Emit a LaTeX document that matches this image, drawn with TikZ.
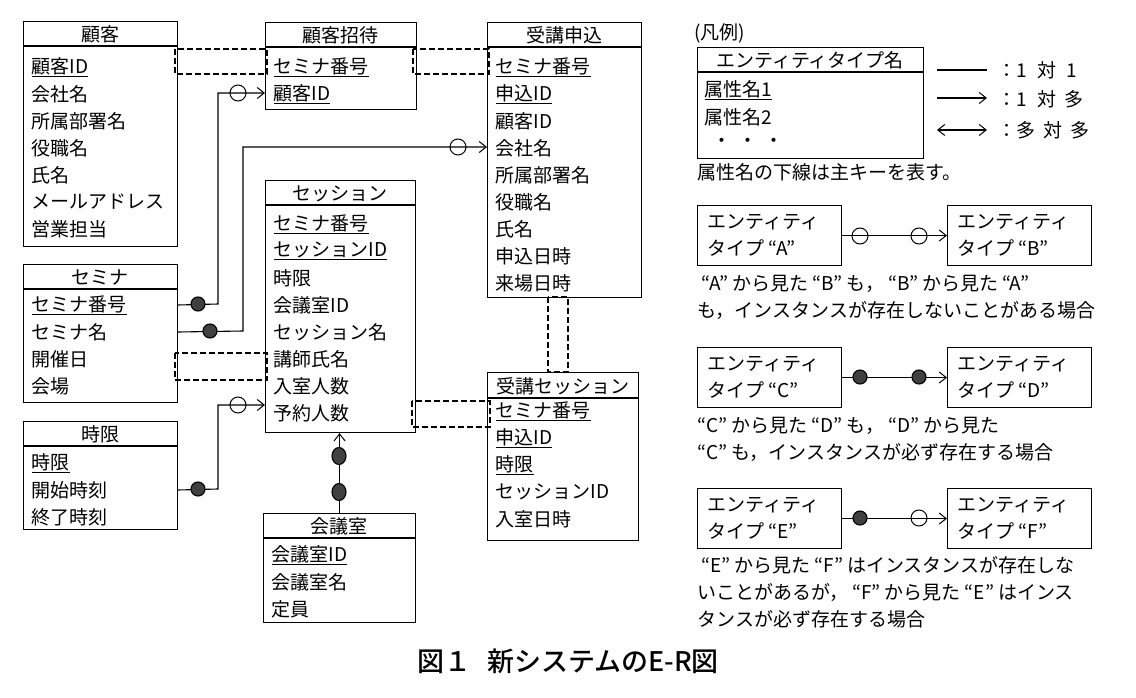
\documentclass[tikz,border=0pt]{standalone}
\usepackage{fontspec}
\setmainfont{Noto Sans CJK JP}
\newfontfamily\titlefont{Noto Sans CJK JP Medium}
\usetikzlibrary{arrows.meta,shapes.geometric}
\newcommand\entity[7]{% name x1 y1 x2 yh y2 title
  \node[box=#4pt-#2pt,minimum height=#6pt-#3pt] (#1) at (#2,#3) {};
  \draw (#2,#5) -- (#4,#5);
  \node[ttl] (#1t) at ({(#2+#4)/2},{(#3+#5)/2+1}) {#7};}
\newcommand\qq[1]{\hspace{4pt}“#1”\hspace{4pt}}
\begin{document}
\begin{tikzpicture}[x=1pt,y=-1pt,line width=1.1pt,
  box/.style={draw,anchor=north west,inner sep=0pt,minimum width=#1},
  txt/.style={anchor=west,inner sep=0pt,font=\fontsize{19}{19}\selectfont},
  ttl/.style={anchor=center,inner sep=0pt,font=\fontsize{19}{19}\selectfont},
  blank/.style={draw,line width=1.2pt,dash pattern=on 6pt off 3pt},
  fdot/.style={circle,fill=black!75,draw=black,inner sep=0pt,minimum size=14pt},
  odot/.style={circle,draw=black,inner sep=0pt,minimum size=16pt,line width=1pt},
  arr/.style={-{Straight Barb[length=7pt,width=11pt,line width=1pt]}},
  darr/.style={{Straight Barb[length=7pt,width=11pt,line width=1pt]}-{Straight Barb[length=7pt,width=11pt,line width=1pt]}}]
\useasboundingbox (0,0) rectangle (1136,698);
% dashed blanks (drawn first)
\draw[blank] (175,49) rectangle (267,74);
\draw[blank] (413,49) rectangle (489,74);
\draw[blank] (175,353) rectangle (267,380);
\draw[blank] (412,401) rectangle (490,427);
\draw[blank] (548,297) rectangle (568,372);
% entities
\entity{kok}{23}{21}{177}{46}{246}{顧客}
\node[txt] (k1) at (31,67) {\underline{顧客ID}};
\node[txt] (k2) at (31,94) {会社名};
\node[txt] (k3) at (31,121) {所属部署名};
\node[txt] (k4) at (31,148) {役職名};
\node[txt] (k5) at (31,175) {氏名};
\node[txt] (k6) at (31,202) {メールアドレス};
\node[txt] (k7) at (31,229) {営業担当};
\entity{ksh}{265}{22}{416}{47}{109}{顧客招待}
\node[txt] (s1) at (273,67) {\underline{セミナ番号}};
\node[txt] (s2) at (273,94) {\underline{顧客ID}};
\entity{jm}{487}{22}{641}{47}{297}{受講申込}
\node[txt] (j1) at (495,67) {\underline{セミナ番号}};
\node[txt] (j2) at (495,94) {\underline{申込ID}};
\node[txt] (j3) at (495,121) {顧客ID};
\node[txt] (j4) at (495,148) {会社名};
\node[txt] (j5) at (495,175) {所属部署名};
\node[txt] (j6) at (495,202) {役職名};
\node[txt] (j7) at (495,229) {氏名};
\node[txt] (j8) at (495,256) {申込日時};
\node[txt] (j9) at (495,283) {来場日時};
\entity{ses}{265}{180}{415}{205}{432}{セッション}
\node[txt] (e1) at (273,224) {\underline{セミナ番号}};
\node[txt] (e2) at (273,251) {\underline{セッションID}};
\node[txt] (e3) at (273,278) {時限};
\node[txt] (e4) at (273,305) {会議室ID};
\node[txt] (e5) at (273,332) {セッション名};
\node[txt] (e6) at (273,359) {講師氏名};
\node[txt] (e7) at (273,386) {入室人数};
\node[txt] (e8) at (273,413) {予約人数};
\entity{sem}{23}{264}{177}{289}{402}{セミナ}
\node[txt] (m1) at (31,305) {\underline{セミナ番号}};
\node[txt] (m2) at (31,332) {セミナ名};
\node[txt] (m3) at (31,359) {開催日};
\node[txt] (m4) at (31,386) {会場};
\entity{jg}{23}{421}{177}{446}{529}{時限}
\node[txt] (g1) at (31,463) {\underline{時限}};
\node[txt] (g2) at (31,490) {開始時刻};
\node[txt] (g3) at (31,517) {終了時刻};
\entity{kai}{263}{513}{415}{538}{622}{会議室}
\node[txt] (r1) at (271,555) {\underline{会議室ID}};
\node[txt] (r2) at (271,582) {会議室名};
\node[txt] (r3) at (271,609) {定員};
\entity{js}{487}{372}{638}{398}{540}{受講セッション}
\node[txt] (u1) at (495,411) {\underline{セミナ番号}};
\node[txt] (u2) at (495,438) {\underline{申込ID}};
\node[txt] (u3) at (495,465) {\underline{時限}};
\node[txt] (u4) at (495,492) {セッションID};
\node[txt] (u5) at (495,519) {入室日時};
% connectors
\coordinate (b1) at (218,304); \coordinate (b2) at (243,331); \coordinate (b3) at (218,489);
\coordinate (t1) at (265,93); \coordinate (t2) at (487,147); \coordinate (t3) at (265,405);
\draw[arr] (sem.east|-m1) -- (b1) |- (t1);
\node[fdot] at (198,304) {}; \node[odot] at (238,93) {};
\draw[arr] (sem.east|-m2) -- (b2) |- (t2);
\node[fdot] at (210,331) {}; \node[odot] at (458,147) {};
\draw[arr] (jg.east|-g2) -- (b3) |- (t3);
\node[fdot] at (198,489) {}; \node[odot] at (238,405) {};
\draw[arr] (kai.north) -- (kai.north|-ses.south);
\node[fdot,ellipse,minimum width=14pt,minimum height=17pt] at (339,456) {};
\node[fdot,ellipse,minimum width=14pt,minimum height=17pt] at (339,492) {};
% legend
\node[txt] (lg) at (694,33) {(凡例)};
\entity{le}{697}{47}{923}{72}{158}{エンティティタイプ名}
\node[txt] (l1) at (704,90) {\underline{属性名1}};
\node[txt] (l2) at (704,117) {属性名2};
\node[txt] (l3) at (712,143) {・\hspace{7pt}・\hspace{7pt}・};
\coordinate (a1) at (937,70); \coordinate (a2) at (987,70);
\coordinate (a3) at (937,98); \coordinate (a4) at (987,98);
\coordinate (a5) at (937,130); \coordinate (a6) at (987,130);
\draw (a1) -- (a2); \draw[arr] (a3) -- (a4); \draw[darr] (a5) -- (a6);
\node[txt] (n1) at (997,70) {：1\hspace{10pt}対\hspace{10pt}1};
\node[txt] (n2) at (997,99) {：1\hspace{10pt}対\hspace{8pt}多};
\node[txt] (n3) at (997,130) {：多\hspace{8pt}対\hspace{8pt}多};
\node[txt] (cap) at (697,172) {属性名の下線は主キーを表す。};
\tikzset{lb/.style={draw,anchor=north west,minimum width=144pt,minimum height=60pt,inner sep=0pt},
  lt/.style={txt,align=left,font=\fontsize{19}{27}\selectfont},
  lp/.style={txt,align=left,font=\fontsize{19}{27}\selectfont}}
\node[lb] (A) at (697,205) {};\node[lt] (At) at (707,235) {エンティティ\\タイプ\qq{A}};
\node[lb] (B) at (947,205) {};\node[lt] (Bt) at (957,235) {エンティティ\\タイプ\qq{B}};
\draw[arr] (A.east) -- (B.west); \node[odot] at (860,236) {}; \node[odot] at (919,236) {};
\node[lp] (ABt) at (697,297) {\qq{A}から見た\qq{B}も，\qq{B}から見た\qq{A}\\も，インスタンスが存在しないことがある場合};
\node[lb] (C) at (697,347) {};\node[lt] (Ct) at (707,377) {エンティティ\\タイプ\qq{C}};
\node[lb] (D) at (947,347) {};\node[lt] (Dt) at (957,377) {エンティティ\\タイプ\qq{D}};
\draw[arr] (C.east) -- (D.west); \node[fdot] at (860,377) {}; \node[fdot] at (919,377) {};
\node[lp] (CDt) at (697,439) {“C”\hspace{4pt}から見た\qq{D}も，\qq{D}から見た\\“C”\hspace{4pt}も，インスタンスが必ず存在する場合};
\node[lb] (E) at (697,488) {};\node[lt] (Et) at (707,518) {エンティティ\\タイプ\qq{E}};
\node[lb] (F) at (947,488) {};\node[lt] (Ft) at (957,518) {エンティティ\\タイプ\qq{F}};
\draw[arr] (E.east) -- (F.west); \node[fdot] at (860,518) {}; \node[odot] at (919,518) {};
\node[lp] (EFt) at (697,592) {\qq{E}から見た\qq{F}はインスタンスが存在しな\\いことがあるが，\qq{F}から見た\qq{E}はインス\\タンスが必ず存在する場合};
\node[font=\titlefont\fontsize{27}{28}\selectfont] (title) at (568,661) {図１\hspace{16pt}新システムのE-R図};
\end{tikzpicture}
\end{document}
